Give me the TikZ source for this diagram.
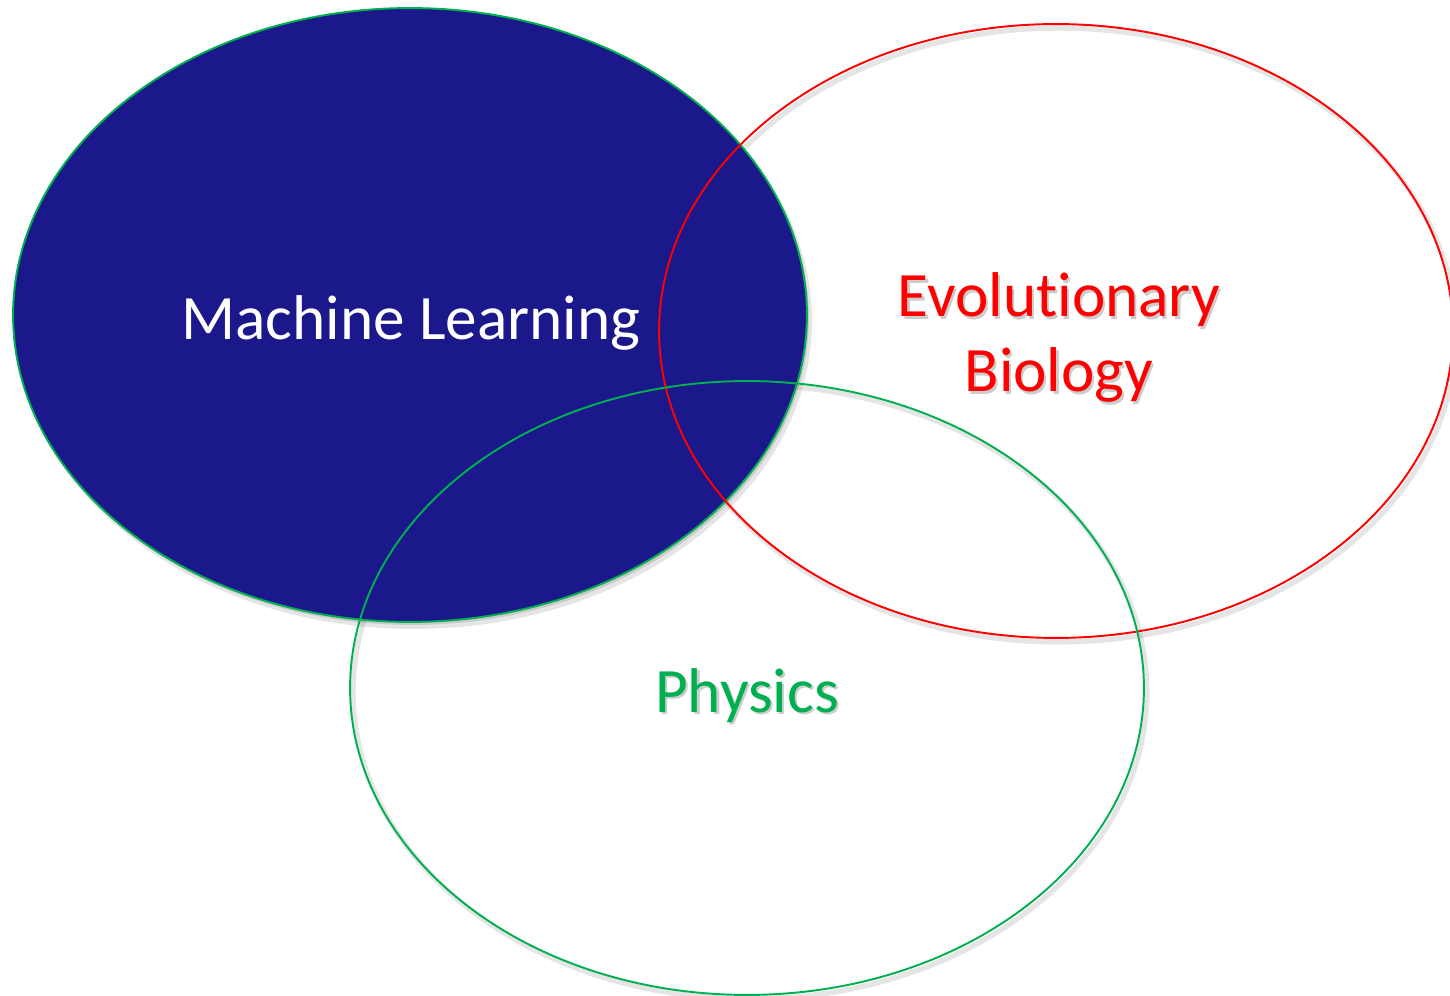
\documentclass[tikz,border=0pt]{standalone}
\usepackage{fontspec}
\setmainfont{Carlito}[Ligatures=NoCommon]
\usetikzlibrary{calc}
\definecolor{mlblue}{RGB}{26,24,139}
\definecolor{physgreen}{RGB}{0,176,80}
\definecolor{evored}{RGB}{255,0,0}
% text with a light grey copy set just behind it
\newcommand\shadowed[1]{\rlap{\kern1.2pt\raisebox{-1.7pt}{\textcolor{black!20}{#1}}}#1}
\tikzset{
  ring/.style={line width=1.1pt},
  ringshadow/.style={black, opacity=.10, line width=3pt},
  setname/.style={font=\fontsize{36}{43}\selectfont, inner sep=0pt, align=center, anchor=base},
}

\begin{document}
\begin{tikzpicture}[x=0.02cm, y=-0.02cm]
\useasboundingbox (0,0) rectangle (1450,996);
% soft shadows under the three sets
\fill[black, opacity=.10] (414,321) ellipse (7.96cm and 6.16cm);
\fill[black, opacity=.12] (412,318) ellipse (7.94cm and 6.14cm);
\draw[ringshadow] (1059,335) ellipse (7.94cm and 6.14cm);
\draw[ringshadow] (750,692) ellipse (7.94cm and 6.14cm);
% machine learning, filled
\filldraw[ring, fill=mlblue, draw=physgreen] (410,315) ellipse (7.94cm and 6.14cm);
% evolutionary biology and physics, outlines only
\draw[ring, evored] (1056,331) ellipse (7.94cm and 6.14cm);
\draw[ring, physgreen] (747,688) ellipse (7.94cm and 6.14cm);
% set names
\node[setname, text=white] (ml) at (411,340) {Machine Learning};
\node[setname, text=evored] (evo) at (1059,392) {\shadowed{Evolutionary}\\\shadowed{Biology}};
\node[setname, text=physgreen] (phys) at (747,712) {\shadowed{Physics}};
\end{tikzpicture}
\end{document}
